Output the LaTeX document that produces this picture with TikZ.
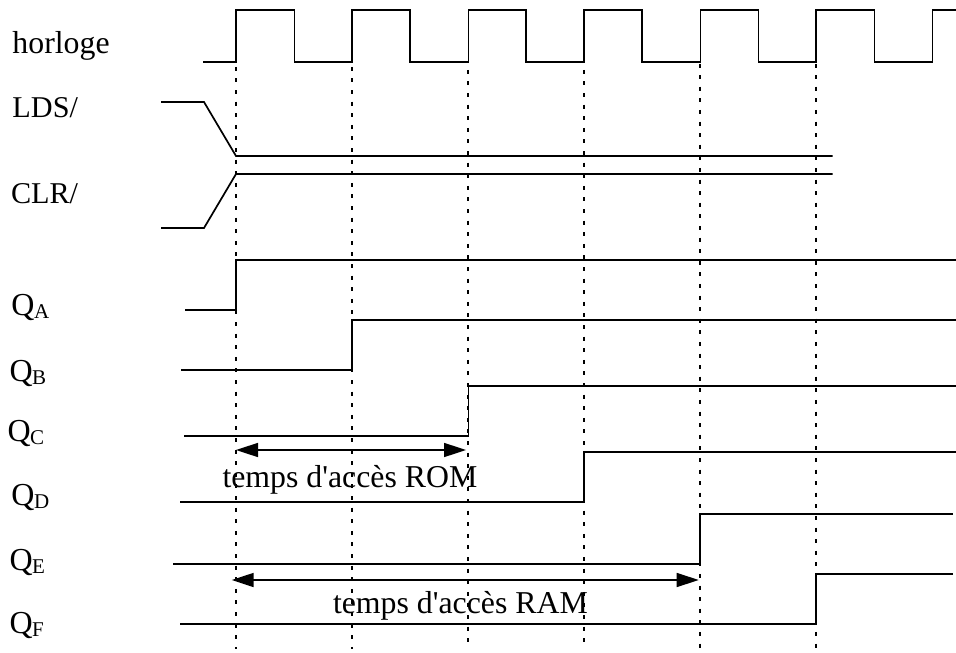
\documentclass[tikz,border=0pt]{standalone}
\usepackage{fontspec}
\usetikzlibrary{arrows.meta}
\newfontfamily\labfont{Liberation Serif}
\newcommand{\Qsub}[1]{{\fontsize{32}{32}\selectfont Q\kern-0.5pt\raisebox{-3pt}{\fontsize{21}{21}\selectfont #1}}}
\tikzset{
  x=1pt,y=-1pt,
  signal/.style={line width=1.7pt,line join=miter,line cap=butt,black},
  guide/.style={line width=1.9pt,black,dash pattern=on 4pt off 7.6pt},
  span/.style={line width=1.6pt,black,{Triangle[length=22pt,width=14pt]}-{Triangle[length=22pt,width=14pt]},shorten >=0pt,shorten <=0pt},
  lab/.style={anchor=base west,inner sep=0pt,outer sep=0pt,font=\labfont\fontsize{31.8}{32}\selectfont},
  capslab/.style={anchor=base west,inner sep=0pt,outer sep=0pt,font=\labfont\fontsize{30.2}{32}\selectfont},
  qlab/.style={anchor=base west,inner sep=0pt,outer sep=0pt,font=\labfont}
}
\begin{document}
\begin{tikzpicture}
\useasboundingbox (0,0) rectangle (956,653);
% guide lines
\coordinate (g1t) at (236,66.8); \coordinate (g1b) at (236,649);
\coordinate (g2t) at (352,66.8); \coordinate (g2b) at (352,649);
\coordinate (g3t) at (468,69.8); \coordinate (g3b) at (468,649);
\coordinate (g4t) at (584,69.8); \coordinate (g4b) at (584,649);
\coordinate (g5t) at (700,63.5); \coordinate (g5b) at (700,653);
\coordinate (g6t) at (816,63.5); \coordinate (g6b) at (816,653);
\foreach \g in {1,...,6}{\draw[guide] (g\g t) -- (g\g b);}
% clock
\coordinate (clkS) at (203,62);
\coordinate (clkE) at (956,10);
\draw[signal] (clkS) -- (236,62) -- (236,10) -- (294.5,10) -- (294.5,62)
  -- (352,62) -- (352,10) -- (410,10) -- (410,62)
  -- (468.5,62) -- (468.5,10) -- (526,10) -- (526,62)
  -- (584,62) -- (584,10) -- (642,10) -- (642,62)
  -- (700.5,62) -- (700.5,10) -- (758.5,10) -- (758.5,62)
  -- (816,62) -- (816,10) -- (874.5,10) -- (874.5,62)
  -- (932.5,62) -- (932.5,10) -- (clkE);
% LDS / CLR
\coordinate (ldsS) at (161,102); \coordinate (ldsA) at (204,102); \coordinate (ldsB) at (236,156); \coordinate (ldsE) at (832.5,156);
\draw[signal] (ldsS) -- (ldsA) -- (ldsB) -- (ldsE);
\coordinate (clrS) at (161,228); \coordinate (clrA) at (204,228); \coordinate (clrB) at (236,174); \coordinate (clrE) at (832.5,174);
\draw[signal] (clrS) -- (clrA) -- (clrB) -- (clrE);
% Q outputs
\coordinate (qaS) at (185,310); \coordinate (qaL) at (236,310); \coordinate (qaH) at (236,260); \coordinate (qaE) at (956,260);
\draw[signal] (qaS) -- (qaL) -- (qaH) -- (qaE);
\coordinate (qbS) at (181,370); \coordinate (qbL) at (352,370); \coordinate (qbH) at (352,320); \coordinate (qbE) at (956,320);
\draw[signal] (qbS) -- (qbL) -- (qbH) -- (qbE);
\coordinate (qcS) at (184,436); \coordinate (qcL) at (468.5,436); \coordinate (qcH) at (468.5,386); \coordinate (qcE) at (956,386);
\draw[signal] (qcS) -- (qcL) -- (qcH) -- (qcE);
\coordinate (qdS) at (180,502); \coordinate (qdL) at (584,502); \coordinate (qdH) at (584,452); \coordinate (qdE) at (956,452);
\draw[signal] (qdS) -- (qdL) -- (qdH) -- (qdE);
\coordinate (qeS) at (173,564); \coordinate (qeL) at (700,564); \coordinate (qeH) at (700,514); \coordinate (qeE) at (953,514);
\draw[signal] (qeS) -- (qeL) -- (qeH) -- (qeE);
\coordinate (qfS) at (180,624); \coordinate (qfL) at (816,624); \coordinate (qfH) at (816,574); \coordinate (qfE) at (953,574);
\draw[signal] (qfS) -- (qfL) -- (qfH) -- (qfE);
% spans
\coordinate (romL) at (236,450); \coordinate (romR) at (466,450);
\draw[span] (romL) -- (romR);
\coordinate (ramL) at (231.7,580); \coordinate (ramR) at (698.7,580);
\draw[span] (ramL) -- (ramR);
% labels
\node[lab] (tclk) at (12.5,53) {horloge};
\node[capslab] (tlds) at (12.5,117) {LDS/};
\node[capslab] (tclr) at (11,203) {CLR/};
\node[qlab] (tqa) at (11.5,315) {\Qsub{A}};
\node[qlab] (tqb) at (9.5,381) {\Qsub{B}};
\node[qlab] (tqc) at (7.5,441) {\Qsub{C}};
\node[qlab] (tqd) at (11.5,505) {\Qsub{D}};
\node[qlab] (tqe) at (9.5,570) {\Qsub{E}};
\node[qlab] (tqf) at (9.5,633) {\Qsub{F}};
\node[lab] (trom) at (222.5,487) {temps d'accès ROM};
\node[lab] (tram) at (333,613) {temps d'accès RAM};
\end{tikzpicture}
\end{document}
